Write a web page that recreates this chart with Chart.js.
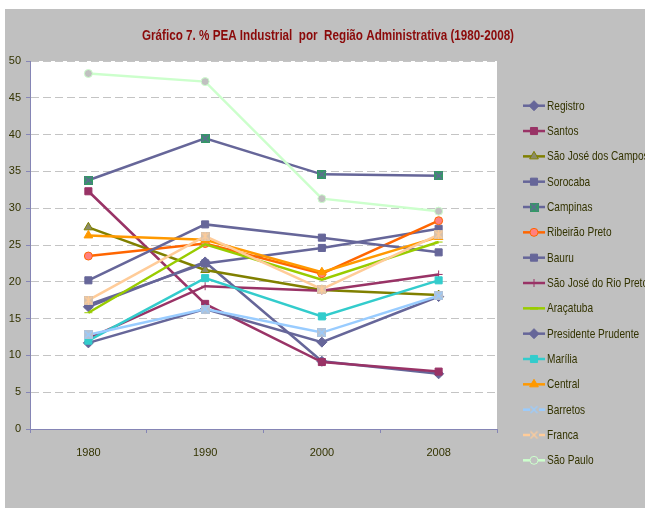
<!DOCTYPE html>
<html>
<head>
<meta charset="utf-8">
<script src="https://cdn.jsdelivr.net/npm/chart.js@4.4.0/dist/chart.umd.min.js"></script>
<style>
html, body { margin: 0; padding: 0; background: #fff; }
#wrap { width: 645px; height: 508px; }
</style>
</head>
<body>
<div id="wrap"><canvas id="chart" width="645" height="508"></canvas></div>
<script>
// Data
const years = ['1980', '1990', '2000', '2008'];
const regioes = ['Registro', 'Santos', 'São José dos Campos', 'Sorocaba', 'Campinas',
    'Ribeirão Preto', 'Bauru', 'São José do Rio Preto', 'Araçatuba', 'Presidente Prudente',
    'Marília', 'Central', 'Barretos', 'Franca', 'São Paulo'];
const registro = [16.6, 22.7, 9.2, 7.5];
const santos = [32.3, 17.0, 9.1, 7.8];
const sjCampos = [27.4, 21.6, 18.9, 18.2];
const sorocaba = [16.9, 22.5, 24.6, 27.2];
const campinas = [33.8, 39.5, 34.6, 34.4];
const ribeirao = [23.5, 25.2, 21.1, 28.3];
const bauru = [20.2, 27.8, 26.0, 24.0];
const sjRioPreto = [12.3, 19.4, 18.8, 21.0];
const aracatuba = [15.8, 25.1, 20.3, 25.4];
const presPrudente = [11.7, 16.3, 11.8, 18.0];
const marilia = [12.0, 20.5, 15.3, 20.2];
const central = [26.3, 25.7, 21.3, 26.1];
const barretos = [12.8, 16.3, 13.1, 18.1];
const franca = [17.5, 26.2, 19.0, 26.4];
const saoPaulo = [48.3, 47.2, 31.3, 29.6];
const yTicks = [0, 5, 10, 15, 20, 25, 30, 35, 40, 45, 50];

const FONT = "'Liberation Sans', Arial, sans-serif";
const AXIS = '#8585b5';
const TEXT = '#333300';
const TITLE = 'Gráfico 7. % PEA Industrial  por  Região Administrativa (1980-2008)';

// small canvas markers for the X-type markers
function xMarker(fill, stroke, star) {
    const c = document.createElement('canvas');
    c.width = 9; c.height = 9;
    const g = c.getContext('2d');
    if (fill) { g.fillStyle = fill; g.fillRect(0, 0, 9, 9); }
    g.strokeStyle = stroke; g.lineWidth = 1.3;
    g.beginPath();
    g.moveTo(1, 1); g.lineTo(8, 8);
    g.moveTo(8, 1); g.lineTo(1, 8);
    if (star) { g.moveTo(4.5, 0); g.lineTo(4.5, 9); }
    g.stroke();
    return c;
}

const series = [
    { data: registro, color: '#666699', style: 'rectRot', fill: '#666699', r: 5 },
    { data: santos, color: '#993366', style: 'rect', fill: '#993366', r: 5 },
    { data: sjCampos, color: '#808000', style: 'triangle', fill: '#8a8a6a', r: 5 },
    { data: sorocaba, color: '#666699', style: 'rect', fill: '#666699', r: 5 },
    { data: campinas, color: '#666699', style: xMarker('#339966', '#666699'), fill: '#339966', r: 5 },
    { data: ribeirao, color: '#ff6600', style: 'circle', fill: '#ff8080', r: 4 },
    { data: bauru, color: '#666699', style: 'rect', fill: '#666699', r: 5 },
    { data: sjRioPreto, color: '#993366', style: 'cross', fill: '#993366', r: 4 },
    { data: aracatuba, color: '#99cc00', style: 'line', fill: '#99cc00', r: 4 },
    { data: presPrudente, color: '#666699', style: 'rectRot', fill: '#666699', r: 5 },
    { data: marilia, color: '#33cccc', style: 'rect', fill: '#33cccc', r: 5 },
    { data: central, color: '#ff9900', style: 'triangle', fill: '#ff9900', r: 5 },
    { data: barretos, color: '#99ccff', style: xMarker('#b4c2d4', '#99ccff'), fill: '#99ccff', r: 5,
      legend: xMarker('#c0c0c0', '#99ccff') },
    { data: franca, color: '#ffcc99', style: xMarker('#d6c2ae', '#ffcc99', true), fill: '#ffcc99', r: 5,
      legend: xMarker('#c0c0c0', '#ffcc99') },
    { data: saoPaulo, color: '#ccffcc', style: 'circle', fill: '#c0c0c0', r: 4 }
];

const datasets = series.map((s, i) => ({
    label: regioes[i],
    data: s.data,
    borderColor: s.color,
    backgroundColor: s.fill,
    borderWidth: 2.5,
    pointStyle: s.style,
    pointRadius: s.r,
    pointBackgroundColor: s.fill,
    pointBorderColor: s.color,
    pointBorderWidth: 1,
    tension: 0,
    order: series.length - i
}));

// text squeezed horizontally to look like the narrow original font
function narrowText(ctx, text, x, y, sx) {
    ctx.save();
    ctx.translate(x, y);
    ctx.scale(sx, 1);
    ctx.fillText(text, 0, 0);
    ctx.restore();
}

// gray frame, white plot area, title and Excel-like legend
const frame = {
    id: 'frame',
    beforeDraw(chart) {
        const { ctx, chartArea: a } = chart;
        ctx.save();
        ctx.fillStyle = '#c0c0c0';
        ctx.fillRect(5, 9, 640, 499);
        ctx.fillStyle = '#ffffff';
        ctx.fillRect(a.left, a.top, a.right - a.left, a.bottom - a.top);
        ctx.restore();
    },
    afterDraw(chart) {
        const ctx = chart.ctx;
        ctx.save();
        ctx.fillStyle = '#8b0a0a';
        ctx.font = 'bold 14px ' + FONT;
        ctx.textAlign = 'center';
        ctx.textBaseline = 'middle';
        const tw = ctx.measureText(TITLE).width;
        narrowText(ctx, TITLE, 328, 36, 372 / tw);

        ctx.font = '13px ' + FONT;
        ctx.textAlign = 'left';
        const sx = 37.6 / ctx.measureText('Registro').width;
        chart.data.datasets.forEach((ds, i) => {
            const y = 105.7 + i * 25.33;
            ctx.strokeStyle = ds.borderColor;
            ctx.lineWidth = 2.5;
            ctx.beginPath();
            ctx.moveTo(523, y);
            ctx.lineTo(545, y);
            ctx.stroke();
            ctx.fillStyle = ds.pointBackgroundColor;
            ctx.strokeStyle = ds.pointBorderColor;
            ctx.lineWidth = ds.pointStyle === 'line' ? 2.5 : 1;
            const mark = series[i].legend || ds.pointStyle;
            Chart.helpers.drawPoint(ctx, { pointStyle: mark, radius: ds.pointRadius, rotation: 0, borderWidth: 1 }, 534, y);
            ctx.fillStyle = TEXT;
            narrowText(ctx, ds.label, 547, y + 0.5, sx);
        });
        ctx.restore();
    }
};

new Chart(document.getElementById('chart'), {
    type: 'line',
    data: { labels: years, datasets },
    options: {
        responsive: false,
        animation: false,
        layout: { padding: { top: 61, right: 148, left: 0, bottom: 0 } },
        plugins: { legend: { display: false }, tooltip: { enabled: false } },
        scales: {
            x: {
                offset: true,
                grid: { offset: true, drawOnChartArea: false, tickLength: 4, color: AXIS },
                border: { color: AXIS, width: 1 },
                ticks: { color: TEXT, font: { family: FONT, size: 11 }, padding: 13 },
                afterFit: s => { s.height = 79; }
            },
            y: {
                min: 0,
                max: 50,
                afterBuildTicks: s => { s.ticks = yTicks.map(v => ({ value: v })); },
                grid: {
                    color: c => c.tick && c.tick.value === 0 ? 'rgba(0,0,0,0)' : '#c4c4c4',
                    tickColor: AXIS,
                    tickLength: 4,
                    tickBorderDash: []
                },
                border: { color: AXIS, width: 1, dash: [8, 4] },
                ticks: { color: TEXT, font: { family: FONT, size: 11 }, padding: 5 },
                afterFit: s => { s.width = 30; }
            }
        }
    },
    plugins: [frame]
});
</script>
</body>
</html>
